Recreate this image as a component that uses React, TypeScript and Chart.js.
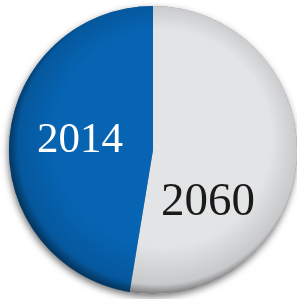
import React, { useEffect, useRef } from "react";
import { Chart, registerables } from "chart.js";

Chart.register(...registerables);

const categories = ["2060", "2014"];
const values = [52.6, 47.4];
const colors = ["#E3E4E6", "#0664B3"];
const labelColors = ["#1a1a1a", "#ffffff"];

const shadowPlugin = {
  id: "shadowPlugin",
  beforeDatasetsDraw(chart: any) {
    const arc = chart.getDatasetMeta(0).data[0];
    if (!arc) return;
    const { x, y, outerRadius } = arc;
    const ctx = chart.ctx;
    ctx.save();
    ctx.shadowColor = "rgba(0,0,0,0.55)";
    ctx.shadowBlur = 7;
    ctx.shadowOffsetX = -1;
    ctx.shadowOffsetY = 3;
    ctx.fillStyle = "#888";
    ctx.beginPath();
    ctx.arc(x, y, outerRadius, 0, Math.PI * 2);
    ctx.fill();
    ctx.restore();
  },
  afterDatasetsDraw(chart: any) {
    const meta = chart.getDatasetMeta(0);
    const arc = meta.data[0];
    if (!arc) return;
    const { x, y, outerRadius } = arc;
    const ctx = chart.ctx;
    ctx.save();
    const g = ctx.createRadialGradient(x + 10, y - 12, outerRadius * 0.75, x + 4, y - 4, outerRadius + 4);
    g.addColorStop(0, "rgba(0,0,0,0)");
    g.addColorStop(0.8, "rgba(0,0,0,0.12)");
    g.addColorStop(1, "rgba(0,0,0,0.45)");
    ctx.fillStyle = g;
    ctx.beginPath();
    ctx.arc(x, y, outerRadius, 0, Math.PI * 2);
    ctx.fill();
    ctx.restore();

    ctx.save();
    ctx.textAlign = "center";
    ctx.textBaseline = "alphabetic";
    const pos = [
      { dx: 55, dy: 65, size: 47 },
      { dx: -73, dy: 2, size: 43 },
    ];
    categories.forEach((c, i) => {
      ctx.font = `${pos[i].size}px "Liberation Serif", "DejaVu Serif", serif`;
      ctx.fillStyle = labelColors[i];
      ctx.fillText(c, x + pos[i].dx, y + pos[i].dy);
    });
    ctx.restore();
  },
};

export default function App() {
  const ref = useRef<HTMLCanvasElement>(null);
  useEffect(() => {
    document.body.style.margin = "0";
    const chart = new Chart(ref.current!, {
      type: "pie",
      data: {
        labels: categories,
        datasets: [
          {
            data: values,
            backgroundColor: colors,
            borderWidth: 0,
          },
        ],
      },
      options: {
        animation: false,
        responsive: false,
        layout: { padding: { left: 9, right: 0, top: 6, bottom: 5 } },
        plugins: { legend: { display: false }, tooltip: { enabled: false } },
      },
      plugins: [shadowPlugin],
    });
    return () => chart.destroy();
  }, []);
  return (
    <div style={{ position: "fixed", left: 0, top: 0, width: 297, height: 299, background: "#fff" }}>
      <canvas ref={ref} width={297} height={299} style={{ width: 297, height: 299, display: "block" }} />
    </div>
  );
}
